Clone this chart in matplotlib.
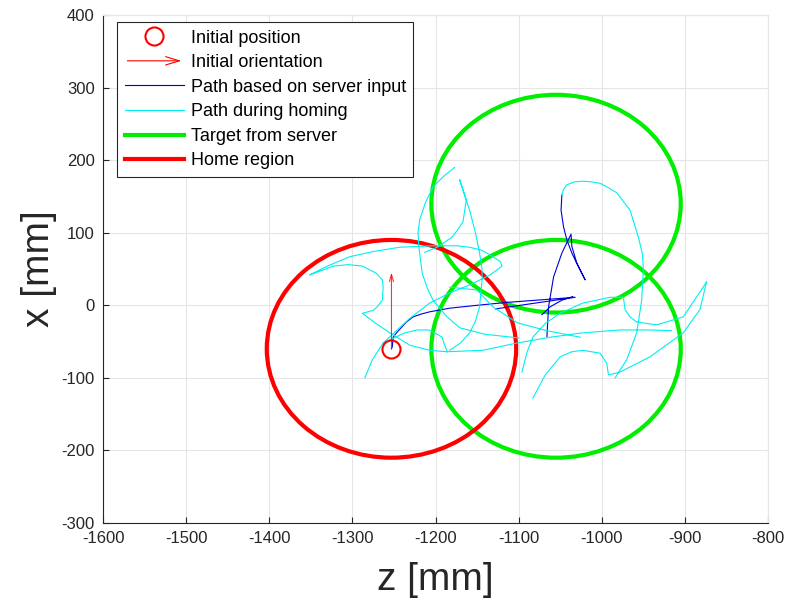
import matplotlib
matplotlib.use("Agg")
import matplotlib.pyplot as plt
from matplotlib.patches import Circle, FancyArrowPatch
from matplotlib.lines import Line2D
from matplotlib.legend_handler import HandlerBase
import numpy as np

plt.rcParams['font.family'] = ['Liberation Sans', 'DejaVu Sans']
plt.rcParams['axes.unicode_minus'] = False

nan = np.nan

# start pose of the robot (z, x) and heading arrow length
start_z, start_x = -1253, -60
heading_len = 105

# home region and the two targets sent by the server (centre z, centre x)
home_center = (-1253, -60)
target_centers = [(-1055, 140), (-1055, -60)]
region_radius = 150

# path driven from server input (NaN separates pieces)
server_z = [-1253, -1252, -1251, -1247, -1243, -1235, -1227, -1217, -1207, -1183, -1150,
            -1114, -1032, -1128,
            nan, -1072, -1062, -1048, -1035,
            nan, -1066, -1064, -1058, -1048, -1037, -1036, -1030, -1020, -1028, -1036,
            -1042, -1046, -1049, -1048]
server_x = [-60, -57, -44, -38, -33, -23, -16, -12, -9, -4, 0,
            4, 11, -5,
            nan, -13, -2, 7, 12,
            nan, -43, -2, 39, 72, 98, 81, 58, 35, 53, 72,
            90, 108, 131, 152]

# paths driven while homing
homing_z = [
    # right loop coming off the server path
    -1048, -1046, -1042, -1033, -1023, -1012, -1002, -992, -982, -966, -956, -951, -950,
    -952, -958, -970, -984, nan,
    # arc over the home region with hook and return
    -1351, -1330, -1303, -1275, -1243, -1203, -1175, -1159, -1145, -1135, -1122, -1120,
    -1127, -1134, -1159, -1183, -1207, -1231, -1249, -1263, -1276, -1285, nan,
    # small hook left of the start
    -1351, -1323, -1305, -1288, -1271, -1264, -1263, -1264, -1270, -1275, -1288, -1273,
    -1255, -1231, -1207, -1186, nan,
    # long lower sweep
    -1186, -1143, -1102, -1062, -1023, -978, -942, -916, nan,
    # hump over the start
    -1263, -1252, -1237, -1222, -1208, -1201, -1192, -1190, -1186, nan,
    # upper middle descents
    -1171, -1165, -1159, -1152, -1147, -1144, -1144, -1147, -1152, -1159, -1170, -1183, nan,
    -1177, -1190, -1203, -1212, -1219, -1221, -1220, -1216, -1210, -1203, -1186, -1171,
    -1140, -1100, nan,
    -1171, -1163, -1165, -1167, -1174, -1180, -1198, -1213, nan,
    -1183, -1150, -1131, -1102, -1066, -1026, nan,
    # lower right curves
    -1083, -1068, -1050, -1036, -1023, -1002, -994, -992, -978, -942, -902, -882, -874, nan,
    -1096, -1090, -1083, -1068, -1050, -1023, -990, -974, -972, -966, -958, -934, -902,
    -874,
]
homing_x = [
    152, 160, 166, 170, 171, 170, 168, 162, 155, 131, 94, 70, 49,
    7, -38, -75, -100, nan,
    42, 54, 67, 74, 80, 82, 82, 80, 76, 70, 60, 54,
    48, 42, 28, 17, 3, -18, -37, -52, -75, -100, nan,
    42, 54, 56, 54, 44, 35, 25, 7, -2, -7, -11, -24,
    -38, -55, -62, -64, nan,
    -64, -62, -52, -44, -38, -34, -34, -35, nan,
    -52, -46, -38, -34, -34, -38, -44, -52, -64, nan,
    173, 152, 131, 100, 72, 50, 35, -2, -22, -38, -52, -62, nan,
    190, 178, 163, 142, 118, 100, 80, 44, 24, 7, -16, -31,
    -40, -45, nan,
    173, 145, 130, 115, 103, 94, 80, 73, nan,
    25, 21, -2, -24, -35, -44, nan,
    -128, -96, -71, -64, -62, -66, -80, -96, -92, -71, -38, -6, 32, nan,
    -92, -65, -44, -25, -11, 3, 11, 11, -6, -16, -23, -27, -16,
    32,
]

xticks = [-1600, -1500, -1400, -1300, -1200, -1100, -1000, -900, -800]
yticks = [-300, -200, -100, 0, 100, 200, 300, 400]

GREEN = '#00ee00'
RED = '#ff0000'
CYAN = '#00f0f0'
BLUE = '#0000dd'
TXT = '#262626'


class ArrowHandler(HandlerBase):
    def create_artists(self, legend, orig_handle, xdescent, ydescent,
                       width, height, fontsize, trans):
        y = height / 2 - ydescent
        arr = FancyArrowPatch((-xdescent, y), (-xdescent + width, y),
                              arrowstyle='->,head_length=1.0,head_width=0.3',
                              mutation_scale=10, color=RED, lw=0.8,
                              transform=trans)
        return [arr]


fig = plt.figure(figsize=(7.9, 6.11), dpi=100)
ax = fig.add_axes([0.1304, 0.144, 0.8418, 0.8315])

for cz, cx in target_centers:
    ax.add_patch(Circle((cz, cx), region_radius, fill=False, ec=GREEN, lw=3, zorder=2))
ax.add_patch(Circle(home_center, region_radius, fill=False, ec=RED, lw=3, zorder=2.1))

ax.plot(server_z, server_x, color=BLUE, lw=0.8, zorder=3)
ax.plot(homing_z, homing_x, color=CYAN, lw=0.8, zorder=3)

ax.plot([start_z], [start_x], 'o', mfc='none', mec=RED, ms=13, mew=1.5, zorder=4)
ax.annotate('', xy=(start_z, start_x + heading_len), xytext=(start_z, start_x),
            arrowprops=dict(arrowstyle='->,head_length=0.5,head_width=0.15',
                            color=RED, lw=0.8, alpha=0.8, shrinkA=0, shrinkB=0),
            zorder=4)

ax.set_xlim(-1600, -800)
ax.set_ylim(-300, 400)
ax.set_xticks(xticks)
ax.set_yticks(yticks)
ax.grid(True, color='#e6e6e6', lw=0.8)
ax.set_axisbelow(True)
ax.tick_params(direction='in', length=4.5, width=0.8, colors=TXT, labelsize=12, pad=6)
for side in ('left', 'bottom'):
    ax.spines[side].set_color(TXT)
    ax.spines[side].set_linewidth(0.8)
for side in ('top', 'right'):
    ax.spines[side].set_color('#e6e6e6')
    ax.spines[side].set_linewidth(0.8)

ax.set_xlabel('z [mm]', fontsize=28, color=TXT, labelpad=11)
ax.set_ylabel('x [mm]', fontsize=28, color=TXT, labelpad=3)

arrow_handle = object()
handles = [
    Line2D([], [], ls='none', marker='o', mfc='none', mec=RED, ms=13, mew=1.5),
    arrow_handle,
    Line2D([], [], color=BLUE, lw=0.8),
    Line2D([], [], color=CYAN, lw=0.8),
    Line2D([], [], color=GREEN, lw=3),
    Line2D([], [], color=RED, lw=3),
]
labels = ['Initial position', 'Initial orientation', 'Path based on server input',
          'Path during homing', 'Target from server', 'Home region']
leg = ax.legend(handles, labels, loc='upper left', fontsize=13,
                bbox_to_anchor=(14 / 665, 1 - 7 / 508), borderaxespad=0,
                handler_map={arrow_handle: ArrowHandler()},
                handlelength=3.3, handletextpad=0.35, labelspacing=0.42,
                borderpad=0.42, fancybox=False, framealpha=1)
leg.get_frame().set_edgecolor(TXT)
leg.get_frame().set_linewidth(0.8)

fig.savefig('out.png', dpi=100)
